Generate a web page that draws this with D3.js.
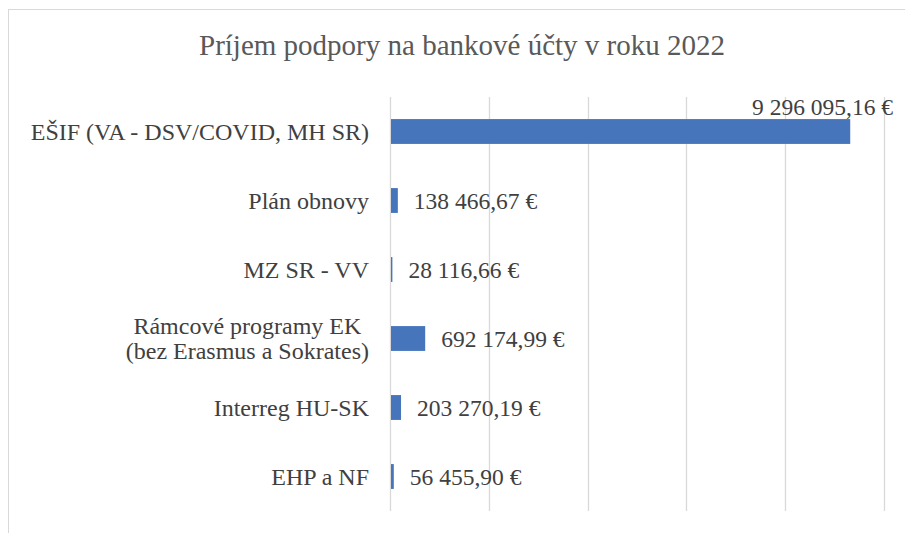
<!DOCTYPE html>
<html>
<head>
<meta charset="utf-8">
<script src="https://cdn.jsdelivr.net/npm/d3@7"></script>
<style>
  body { margin: 0; background: #fff; }
</style>
</head>
<body>
<svg id="chart" width="905" height="533"></svg>
<script>
'use strict';

const title = 'Príjem podpory na bankové účty v roku 2022';
const categories = [
    ['EŠIF (VA - DSV/COVID, MH SR)'],
    ['Plán obnovy'],
    ['MZ SR - VV'],
    ['Rámcové programy EK', '(bez Erasmus a Sokrates)'],
    ['Interreg HU-SK'],
    ['EHP a NF']
];
const values = [9296095.16, 138466.67, 28116.66, 692174.99, 203270.19, 56455.90];
const valueLabels = ['9 296 095,16 €', '138 466,67 €', '28 116,66 €', '692 174,99 €', '203 270,19 €', '56 455,90 €'];
const gridTicks = [0, 2000000, 4000000, 6000000, 8000000, 10000000];

const barColour = '#4675bb';
const textColour = '#404040';
const gridColour = '#d9d9d9';
const fontFamily = "'Liberation Serif', 'Times New Roman', Times, 'DejaVu Serif', serif";

const svg = d3.select('#chart').style('font-family', fontFamily);
const plot = { left: 390, right: 884, top: 97, bottom: 511 };

// chart frame
svg.append('rect')
    .attr('x', 8.5).attr('y', 9.5)
    .attr('width', 920).attr('height', 540)
    .attr('fill', 'none')
    .attr('stroke', gridColour);

const x = d3.scaleLinear().domain([0, 10000000]).range([plot.left, plot.right]);
const y = d3.scaleBand()
    .domain(d3.range(categories.length))
    .range([plot.top, plot.bottom])
    .paddingInner(0.64)
    .paddingOuter(0.32);

svg.append('text')
    .attr('x', 462).attr('y', 55)
    .attr('text-anchor', 'middle')
    .attr('font-family', fontFamily)
    .attr('font-size', 29)
    .attr('fill', '#595959')
    .text(title);

// vertical gridlines
svg.append('g')
    .selectAll('line')
    .data(gridTicks)
    .join('line')
    .attr('x1', d => Math.round(x(d)) + 0.5)
    .attr('x2', d => Math.round(x(d)) + 0.5)
    .attr('y1', plot.top)
    .attr('y2', plot.bottom)
    .attr('stroke', gridColour)
    .attr('stroke-width', 1.3);

const rows = svg.append('g')
    .selectAll('g')
    .data(values)
    .join('g');

rows.append('rect')
    .attr('x', x(0) + 1)
    .attr('y', (d, i) => y(i))
    .attr('width', d => x(d) - x(0))
    .attr('height', y.bandwidth())
    .attr('fill', barColour);

// category labels, right aligned, multi line block centred on the bar
const catLabels = rows.append('text')
    .attr('font-family', fontFamily)
    .attr('font-size', 24)
    .attr('fill', textColour)
    .attr('text-anchor', 'middle');

catLabels.each(function (d, i) {
    const t = d3.select(this);
    const lines = categories[i];
    const lineHeight = 25;
    const cy = y(i) + y.bandwidth() / 2;
    lines.forEach((line, k) => {
        t.append('tspan')
            .attr('y', cy + 8 + (k - (lines.length - 1) / 2) * lineHeight)
            .text(line);
    });
    const maxW = d3.max(t.selectAll('tspan').nodes(), n => n.getComputedTextLength());
    t.selectAll('tspan').attr('x', x(0) - 21 - maxW / 2);
});

// value labels; the largest one sits above the end of its bar
rows.append('text')
    .attr('font-family', fontFamily)
    .attr('font-size', 23.5)
    .attr('fill', textColour)
    .attr('text-anchor', (d, i) => i === 0 ? 'end' : 'start')
    .attr('x', (d, i) => i === 0 ? x.range()[1] + 9 : x(d) + 17)
    .attr('y', (d, i) => i === 0 ? y(i) - 4 : y(i) + y.bandwidth() / 2 + 8)
    .text((d, i) => valueLabels[i]);
</script>
</body>
</html>
